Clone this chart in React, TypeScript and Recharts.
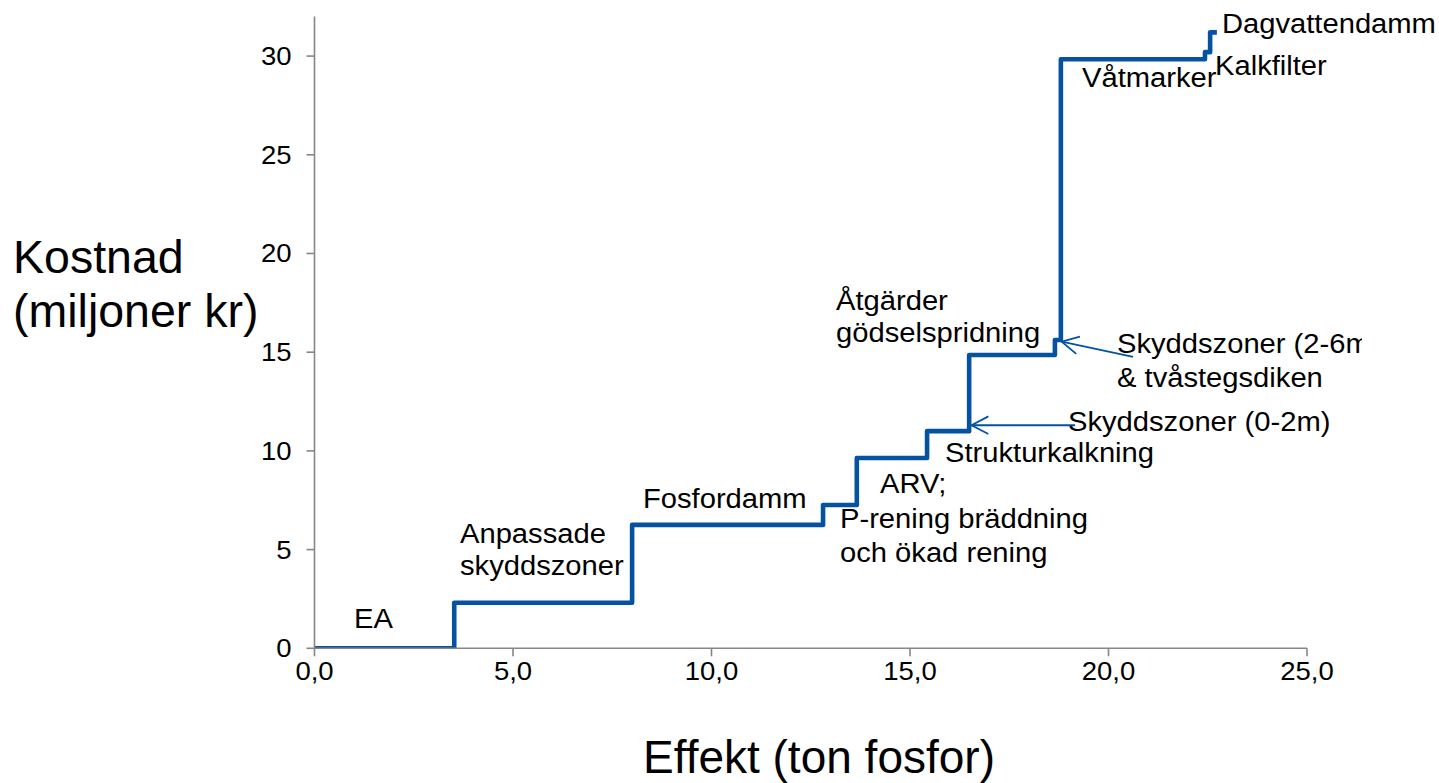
import { Line, LineChart, ReferenceLine, XAxis, YAxis } from "recharts";

// Stegkurva: kumulativ effekt (ton fosfor) mot kumulativ kostnad (miljoner kr)
const effekt = [0, 3.52, 8.0, 12.81, 13.66, 15.43, 16.49, 18.65, 18.8, 22.43, 22.56, 22.73];
const kostnad = [0, 2.31, 6.25, 7.26, 9.64, 11.0, 14.86, 15.62, 29.84, 30.2, 31.2, 31.2];

const xTicks = [0, 5, 10, 15, 20, 25];
const yTicks = [0, 5, 10, 15, 20, 25, 30];

// pilar som pekar på de smala stegen
const arrows = [
  { from: { x: 20.62, y: 14.76 }, to: { x: 18.82, y: 15.53 } },
  { from: { x: 19.16, y: 11.3 }, to: { x: 16.55, y: 11.3 } },
];

const data = effekt.map((x, i) => ({ x, y: kostnad[i] }));

const BLUE = "#0552a0";
const AXIS = "#868686";
const FONT = '"Liberation Sans", Arial, sans-serif';
const STRETCH = 1.08; // originalbilden är lite utdragen på bredden

function ArrowShape(props: any) {
  const { x1, y1, x2, y2 } = props;
  if ([x1, y1, x2, y2].some((v) => typeof v !== "number")) return null;
  // x1,y1 = svans, x2,y2 = spets
  const ang = Math.atan2(y2 - y1, x2 - x1);
  const len = 19;
  const spread = Math.PI / 6.5;
  const a1 = ang + Math.PI - spread;
  const a2 = ang + Math.PI + spread;
  return (
    <g stroke={BLUE} strokeWidth={1.8} fill="none">
      <line x1={x1} y1={y1} x2={x2} y2={y2} />
      <path
        d={`M${x2 + len * Math.cos(a1)},${y2 + len * Math.sin(a1)} L${x2},${y2} L${
          x2 + len * Math.cos(a2)
        },${y2 + len * Math.sin(a2)}`}
      />
    </g>
  );
}

function XTick(props: any) {
  const { x, y, payload } = props;
  return (
    <text
      transform={`translate(${x},${y + 18}) scale(1.1,1)`}
      textAnchor="middle"
      fontSize={25}
      fontFamily={FONT}
      fill="#000"
    >
      {Number(payload.value).toFixed(1).replace(".", ",")}
    </text>
  );
}

function YTick(props: any) {
  const { x, y, payload } = props;
  return (
    <text
      transform={`translate(${x},${y + 9}) scale(1.1,1)`}
      textAnchor="end"
      fontSize={25}
      fontFamily={FONT}
      fill="#000"
    >
      {payload.value}
    </text>
  );
}

const label = (txt: string, x: number, y: number) => (
  <text transform={`translate(${x},${y}) scale(${STRETCH},1)`} fontSize={27} fill="#000">
    {txt}
  </text>
);

export default function App() {
  return (
    <div
      style={{
        position: "absolute",
        left: 0,
        top: 0,
        width: 1439,
        height: 783,
        background: "#fff",
        fontFamily: FONT,
        overflow: "hidden",
      }}
    >
      <LineChart
        width={1439}
        height={783}
        data={data}
        margin={{ top: 16.6, right: 132, left: 0, bottom: 94.7 }}
      >
        <XAxis
          dataKey="x"
          type="number"
          domain={[0, 25]}
          ticks={xTicks}
          height={40}
          tickSize={8}
          tickMargin={6}
          axisLine={{ stroke: AXIS, strokeWidth: 1.6 }}
          tickLine={{ stroke: AXIS, strokeWidth: 1.6 }}
          tick={<XTick />}
          allowDataOverflow
        />
        <YAxis
          type="number"
          domain={[0, 32]}
          ticks={yTicks}
          width={314.5}
          tickSize={8}
          tickMargin={15}
          axisLine={{ stroke: AXIS, strokeWidth: 1.6 }}
          tickLine={{ stroke: AXIS, strokeWidth: 1.6 }}
          tick={<YTick />}
          allowDataOverflow
        />
        {arrows.map((a, i) => (
          <ReferenceLine
            key={i}
            segment={[a.from, a.to]}
            shape={ArrowShape}
            ifOverflow="visible"
          />
        ))}
        <Line
          type="stepAfter"
          dataKey="y"
          stroke={BLUE}
          strokeWidth={4.6}
          strokeLinejoin="round"
          dot={false}
          activeDot={false}
          isAnimationActive={false}
        />
      </LineChart>
      <svg
        width={1439}
        height={783}
        style={{ position: "absolute", left: 0, top: 0, pointerEvents: "none", fontFamily: FONT }}
      >
        <defs>
          <clipPath id="clipRight">
            <rect x={0} y={0} width={1362} height={783} />
          </clipPath>
        </defs>
        {label("Dagvattendamm", 1222, 33)}
        {label("Kalkfilter", 1215, 75)}
        {label("Våtmarker", 1082, 87)}
        <g clipPath="url(#clipRight)">{label("Skyddszoner (2-6m)", 1117, 353)}</g>
        {label("& tvåstegsdiken", 1117, 387)}
        {label("Skyddszoner (0-2m)", 1068, 431)}
        {label("Strukturkalkning", 945, 462)}
        {label("Åtgärder", 836, 310)}
        {label("gödselspridning", 836, 342)}
        {label("ARV;", 880, 493)}
        {label("P-rening bräddning", 840, 528)}
        {label("och ökad rening", 840, 562)}
        {label("Fosfordamm", 643, 508)}
        {label("Anpassade", 460, 543)}
        {label("skyddszoner", 460, 575)}
        {label("EA", 354, 628)}
        <text x={13} y={273} fontSize={46.5} fill="#000">
          Kostnad
        </text>
        <text x={13} y={327} fontSize={46.5} fill="#000">
          (miljoner kr)
        </text>
        <text x={643} y={773} fontSize={46} fill="#000">
          Effekt (ton fosfor)
        </text>
      </svg>
    </div>
  );
}
